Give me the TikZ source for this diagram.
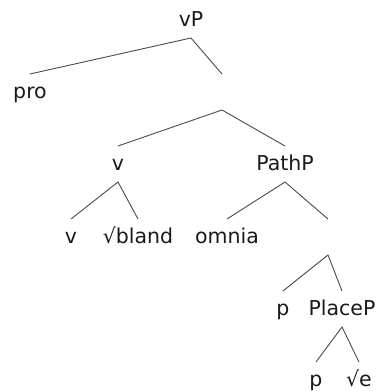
\documentclass[tikz,border=0pt]{standalone}
\usepackage{fontspec}
\setmainfont{DejaVu Sans}
\usepackage{xcolor}
\usepackage{tikz}
\definecolor{ink}{HTML}{1A1A1A}
\definecolor{edge}{HTML}{4A4A4A}
\tikzset{
  cat/.style={inner sep=0pt,outer sep=0pt,minimum height=36pt,text height=17pt,text depth=4pt,text=ink,font=\fontsize{20.5}{24}\selectfont},
  branch/.style={draw=edge,line width=0.9pt},
}

\begin{document}
\begin{tikzpicture}[x=1pt,y=-1pt]
    \useasboundingbox (0,0) rectangle (379,391);
    % top level
    \node[cat] (vP) at (191,20) {vP};
    \node[cat] (pro) at (30,92) {pro};
    \node[cat] (vbar) at (222,92) {};
    % second level
    \node[cat] (v) at (118,164) {v};
    \node[cat] (PathP) at (285,164) {PathP};
    \node[cat] (vhead) at (71,237) {v};
    \node[cat] (bland) at (138,237) {√bland};
    \node[cat] (omnia) at (227,237) {omnia};
    \node[cat] (pathbar) at (328,237) {};
    % PlaceP part
    \node[cat] (p) at (283,309) {p};
    \node[cat] (PlaceP) at (342,309) {PlaceP};
    \node[cat] (plow) at (316,380) {p};
    \node[cat] (root) at (359,380) {√e};
    % branches
    \draw[branch] (pro.north) -- (vP.south) -- (vbar.north);
    \draw[branch] (v.north) -- (vbar.south) -- (PathP.north);
    \draw[branch] (vhead.north) -- (v.south) -- (bland.north);
    \draw[branch] (omnia.north) -- (PathP.south) -- (pathbar.north);
    \draw[branch] (p.north) -- (pathbar.south) -- (PlaceP.north);
    \draw[branch] (plow.north) -- (PlaceP.south) -- (root.north);
  \end{tikzpicture}
\end{document}
